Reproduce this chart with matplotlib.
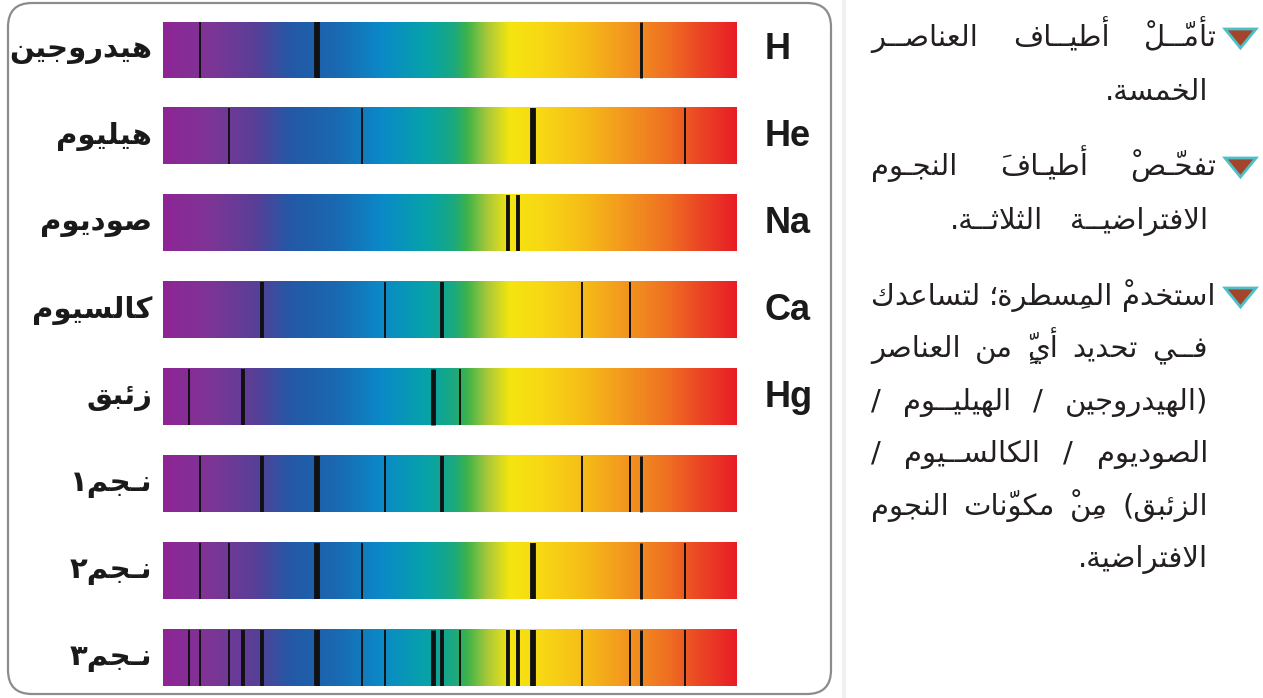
import numpy as np
import matplotlib.pyplot as plt
from matplotlib.colors import LinearSegmentedColormap
from matplotlib.patches import FancyBboxPatch, Polygon

# ---------------- data ----------------
elements = ['H', 'He', 'Na', 'Ca', 'Hg']
element_names = ['هيدروجين', 'هيليوم', 'صوديوم', 'كالسيوم', 'زئبق']
star_names = ['نـجم١', 'نـجم٢', 'نـجم٣']

# spectral line positions on a 400-700 nm strip, with a weight (1 thin .. 3 thick)
H_lines = [419.2, 480.6, 649.9]
H_weights = [1, 3, 1.5]
He_lines = [434.6, 504.2, 593.2, 672.6]
He_weights = [1, 1, 3, 1]
Na_lines = [580.2, 585.6]
Na_weights = [2, 2]
Ca_lines = [451.6, 516.2, 545.8, 618.8, 644.2]
Ca_weights = [2, 1, 2, 1, 1]
Hg_lines = [413.8, 441.8, 541.2, 555.4]
Hg_weights = [1, 2, 2.5, 1]

# which elements each imaginary star is made of
star_parts = [['H', 'Ca'], ['H', 'He'], ['H', 'He', 'Na', 'Ca', 'Hg']]

text_lines = [
    'تأمّــلْ أطيــاف العناصــر',
    'الخمسة.',
    'تفحّـصْ أطيـافَ النجـوم',
    'الافتراضيــة الثلاثــة.',
    'استخدمْ المِسطرة؛ لتساعدك',
    'فــي تحديد أيٍّ من العناصر',
    '(الهيدروجين / الهيليــوم /',
    'الصوديوم / الكالســيوم /',
    'الزئبق) مِنْ مكوّنات النجوم',
    'الافتراضية.',
]

# ---------------- arabic shaping (no external libs) ----------------
DUAL = {'ئ': 0xFE89, 'ب': 0xFE8F, 'ت': 0xFE95, 'ث': 0xFE99, 'ج': 0xFE9D, 'ح': 0xFEA1,
        'خ': 0xFEA5, 'س': 0xFEB1, 'ش': 0xFEB5, 'ص': 0xFEB9, 'ض': 0xFEBD, 'ط': 0xFEC1,
        'ظ': 0xFEC5, 'ع': 0xFEC9, 'غ': 0xFECD, 'ف': 0xFED1, 'ق': 0xFED5, 'ك': 0xFED9,
        'ل': 0xFEDD, 'م': 0xFEE1, 'ن': 0xFEE5, 'ه': 0xFEE9, 'ي': 0xFEF1}
RIGHT = {'آ': 0xFE81, 'أ': 0xFE83, 'ؤ': 0xFE85, 'إ': 0xFE87, 'ا': 0xFE8D, 'ة': 0xFE93,
         'د': 0xFEA9, 'ذ': 0xFEAB, 'ر': 0xFEAD, 'ز': 0xFEAF, 'و': 0xFEED, 'ى': 0xFEEF}
LAMALEF = {'آ': 0xFEF5, 'أ': 0xFEF7, 'إ': 0xFEF9, 'ا': 0xFEFB}
TATWEEL = '\u0640'
MARKS = set(chr(c) for c in range(0x064B, 0x0653)) | {'\u0670'}
MIRROR = {'(': ')', ')': '('}


def shape(s):
    clusters = []
    for ch in s:
        if ch in MARKS and clusters:
            clusters[-1][1] += ch
        else:
            clusters.append([ch, ''])
    merged = []
    i = 0
    while i < len(clusters):
        b, m = clusters[i]
        if b == 'ل' and i + 1 < len(clusters) and clusters[i + 1][0] in LAMALEF:
            merged.append(['LA' + clusters[i + 1][0], m + clusters[i + 1][1]])
            i += 2
        else:
            merged.append([b, m])
            i += 1

    def jtype(b):
        if b in DUAL or b == TATWEEL:
            return 'D'
        if b in RIGHT or b.startswith('LA'):
            return 'R'
        return 'U'

    types = [jtype(b) for b, _ in merged]
    out = []
    for i, (b, m) in enumerate(merged):
        t = types[i]
        jp = i > 0 and types[i - 1] == 'D' and t in 'DR'
        jn = t == 'D' and i + 1 < len(merged) and types[i + 1] in 'DR'
        if b.startswith('LA'):
            g = chr(LAMALEF[b[2]] + (1 if jp else 0))
        elif b in DUAL:
            g = chr(DUAL[b] + (3 if (jp and jn) else 1 if jp else 2 if jn else 0))
        elif b in RIGHT:
            g = chr(RIGHT[b] + (1 if jp else 0))
        else:
            g = MIRROR.get(b, b)
        out.append(g + m)
    return out


def rtl(s):
    # visual order: reverse every char, so each mark lands just before its base
    return ''.join(reversed(''.join(shape(s))))


# ---------------- figure ----------------
W, H = 1263, 698
fig = plt.figure(figsize=(W / 100, H / 100), dpi=100)
page = fig.add_axes([0, 0, 1, 1])
page.set_xlim(0, W)
page.set_ylim(H, 0)
page.axis('off')

page.add_patch(FancyBboxPatch((8, 3), 823, 691, boxstyle='round,pad=0,rounding_size=24',
                              fc='white', ec='#8c8c8c', lw=1.6))
page.plot([844, 844], [0, H], color='#f0f0f0', lw=3)

# spectra
spec = LinearSegmentedColormap.from_list('spec', [
    (0.00, '#8E2596'), (0.08, '#7E3595'), (0.16, '#583F97'), (0.22, '#2458A6'),
    (0.30, '#1A68B0'), (0.38, '#0B89C8'), (0.46, '#06A3A8'), (0.505, '#19A882'),
    (0.53, '#3CB24A'), (0.565, '#A8C83A'), (0.605, '#F5E50F'), (0.66, '#F8D814'),
    (0.73, '#F6BE17'), (0.80, '#F39A1E'), (0.88, '#EF7022'), (0.94, '#EB4425'),
    (1.00, '#E81D26')])

line_data = {'H': (H_lines, H_weights), 'He': (He_lines, He_weights),
             'Na': (Na_lines, Na_weights), 'Ca': (Ca_lines, Ca_weights),
             'Hg': (Hg_lines, Hg_weights)}

rows = []
for el in elements:
    rows.append(line_data[el])
for parts in star_parts:
    xs, ws = [], []
    for el in parts:
        xs += line_data[el][0]
        ws += line_data[el][1]
    rows.append((xs, ws))

row_labels = [rtl(n) for n in element_names + star_names]
row_symbols = elements + [''] * len(star_names)

top_px, bot_px = 21.5, 685.7
bh = 0.645
ax = fig.add_axes([163 / W, (H - bot_px) / H, 574 / W, (bot_px - top_px) / H])
grad = np.linspace(0, 1, 512)[None, :]
for i, (xs, ws) in enumerate(rows):
    ax.imshow(grad, cmap=spec, aspect='auto', extent=(400, 700, i + bh / 2, i - bh / 2),
              interpolation='bilinear')
    ax.vlines(xs, i - bh / 2, i + bh / 2, colors='#111111', linewidth=[1.4 * w for w in ws])
    ax.annotate(row_labels[i], xy=(0, i), xycoords=('axes fraction', 'data'),
                xytext=(-11, 0), textcoords='offset pixels', ha='right', va='center',
                fontsize=21, fontweight='bold', family=['DejaVu Sans'], color='#1a1a1a')
    if row_symbols[i]:
        ax.annotate(row_symbols[i], xy=(1, i), xycoords=('axes fraction', 'data'),
                    xytext=(28, 0), textcoords='offset pixels', ha='left', va='center',
                    fontsize=26, fontweight='bold', family=['Liberation Sans', 'DejaVu Sans'],
                    color='#1a1a1a')
ax.set_xlim(400, 700)
ax.set_ylim(len(rows) - 1 + bh / 2, -bh / 2)
ax.axis('off')

# instructions text (RTL, justified lines laid out word by word)
baselines = [46, 100, 175, 229, 305, 357, 410, 462, 515, 567]
right_edge = [1216, 1208, 1216, 1208, 1216, 1208, 1208, 1208, 1208, 1208]
left_edge = [871, None, 871, 950, 871, 871, 871, 871, 871, None]
bullet_rows = [0, 2, 4]
fs = 21

renderer = fig.canvas.get_renderer()
for k, line in enumerate(text_lines):
    y = baselines[k]
    if left_edge[k] is None:
        page.text(right_edge[k], y, rtl(line), ha='right', va='baseline', fontsize=fs,
                  family=['DejaVu Sans'], color='#231f20')
        continue
    words = line.split(' ')
    objs = [page.text(0, y, rtl(w), ha='left', va='baseline', fontsize=fs,
                      family=['DejaVu Sans'], color='#231f20') for w in words]
    widths = [o.get_window_extent(renderer).width for o in objs]
    gap = (right_edge[k] - left_edge[k] - sum(widths)) / max(len(words) - 1, 1)
    x = right_edge[k]
    for o, wdt in zip(objs, widths):
        x -= wdt
        o.set_x(x)
        x -= gap

for k in bullet_rows:
    yc = baselines[k] - 8
    page.add_patch(Polygon([(1225, yc - 9), (1256, yc - 9), (1240.5, yc + 10)], closed=True,
                           fc='#A3452A', ec='#4DBFC6', lw=2, joinstyle='miter'))

fig.savefig('out.png', dpi=100)
